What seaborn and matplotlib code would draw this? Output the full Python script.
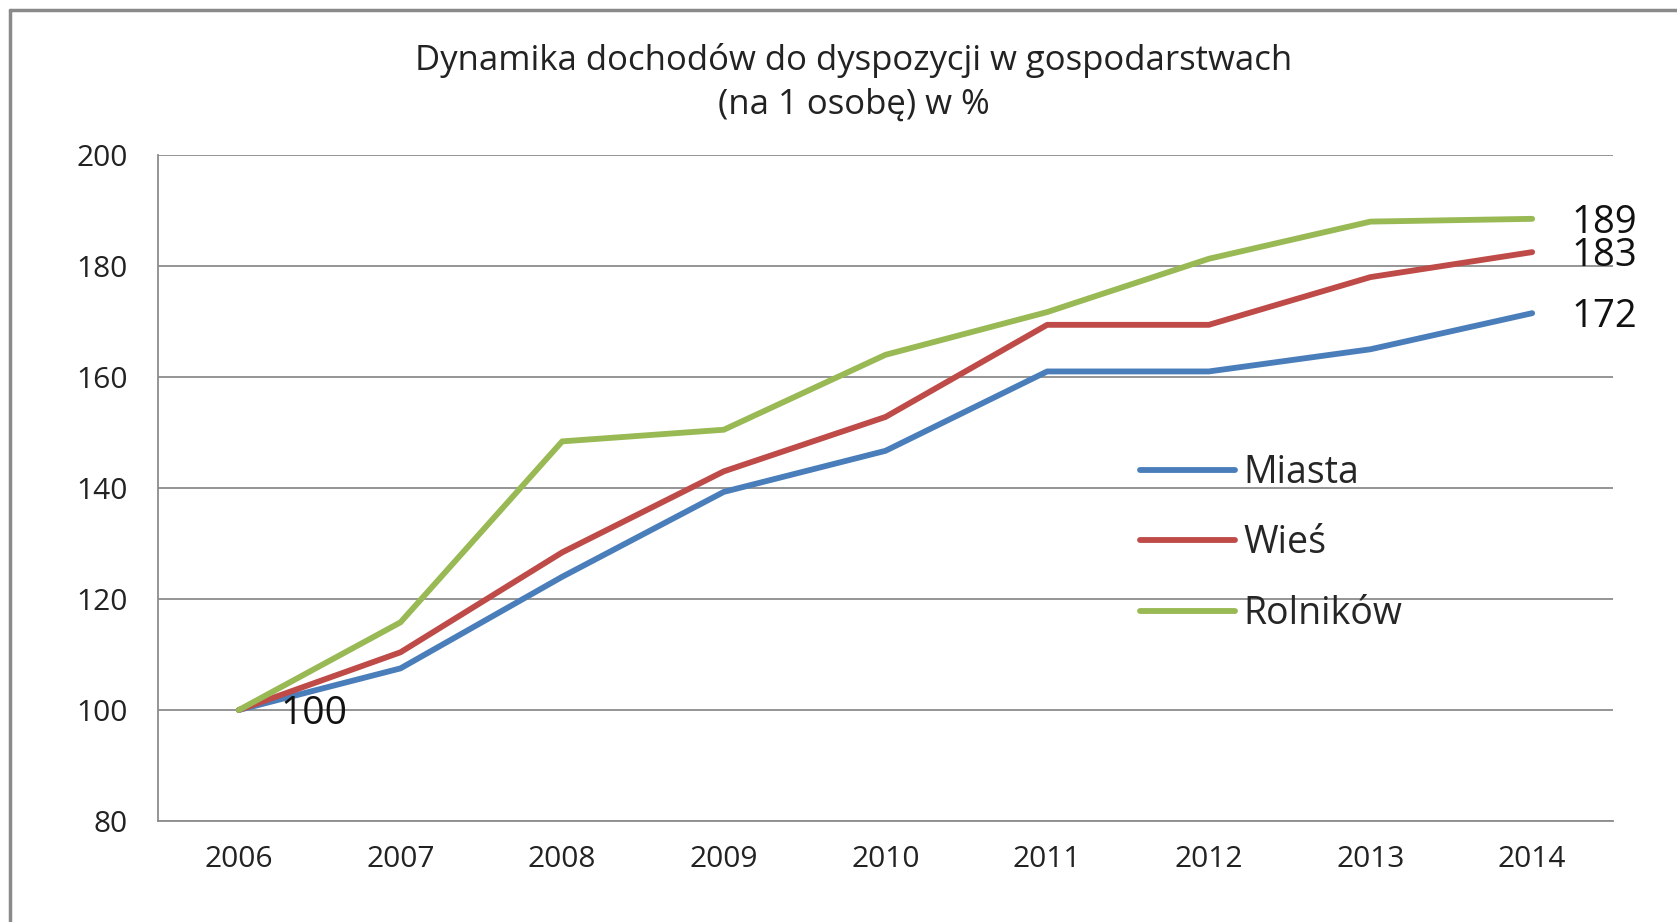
import pandas as pd
import seaborn as sns
from matplotlib import pyplot as plt
from matplotlib.lines import Line2D

# dane
lata = ["2006", "2007", "2008", "2009", "2010", "2011", "2012", "2013", "2014"]
miasta = [100, 107.5, 124, 139.3, 146.7, 161, 161, 165, 171.5]
wies = [100, 110.4, 128.4, 143, 152.8, 169.4, 169.4, 178, 182.5]
rolnikow = [100, 115.8, 148.4, 150.5, 164, 171.7, 181.3, 188, 188.5]
serie = ["Miasta", "Wieś", "Rolników"]
kolory = ["#4A7EBB", "#BE4B48", "#98B954"]
etykiety_koniec = ["172", "183", "189"]

df = pd.DataFrame({
    "rok": list(range(len(lata))) * 3,
    "wartosc": miasta + wies + rolnikow,
    "seria": [s for s in serie for _ in lata],
})

sns.set_style("white")
plt.rcParams["font.family"] = ["Open Sans", "DejaVu Sans"]

fig = plt.figure(figsize=(16.77, 9.22), dpi=100)
ax = fig.add_axes([158 / 1677, 1 - 821 / 922, (1613 - 158) / 1677, (821 - 155) / 922])

sns.lineplot(data=df, x="rok", y="wartosc", hue="seria", hue_order=serie,
             palette=kolory, linewidth=4.2, ax=ax, legend=False)

szary = "#8C8C8C"
ax.set_xlim(-0.5, len(lata) - 0.5)
ax.set_ylim(80, 200)
ax.set_yticks(range(80, 201, 20))
ax.set_xticks(range(len(lata)))
ax.set_xticklabels(lata)
ax.set_xticks([i - 0.5 for i in range(len(lata) + 1)], minor=True)
ax.tick_params(axis="x", which="major", length=0, pad=17, labelsize=21.5, labelcolor="#222222")
ax.tick_params(axis="x", which="minor", length=8, width=1.3, color=szary, direction="out")
ax.tick_params(axis="y", length=8, width=1.3, color=szary, pad=14, labelsize=21.5,
               labelcolor="#222222", direction="out")
ax.yaxis.grid(True, color=szary, linewidth=1.3)
ax.set_axisbelow(True)
ax.set_xlabel("")
ax.set_ylabel("")
for s in ["top", "right"]:
    ax.spines[s].set_visible(False)
for s in ["left", "bottom"]:
    ax.spines[s].set_color(szary)
    ax.spines[s].set_linewidth(1.3)

# etykiety wartości
ax.annotate("100", xy=(0, 100), xytext=(30, -3), textcoords="offset points",
            ha="left", va="center", fontsize=28, color="#111111")
for wart, tekst in zip([miasta[-1], wies[-1], rolnikow[-1]], etykiety_koniec):
    ax.annotate(tekst, xy=(len(lata) - 1, wart), xytext=(28, -3), textcoords="offset points",
                ha="left", va="center", fontsize=27.5, color="#111111")

# legenda
uchwyty = [Line2D([0], [0], color=k, linewidth=4.2) for k in kolory]
ax.legend(uchwyty, serie, loc="upper left", bbox_to_anchor=(1121 / 1677, 1 - 435 / 922),
          bbox_transform=fig.transFigure, frameon=False, fontsize=27,
          handlelength=2.55, handletextpad=0.22, labelspacing=0.87, borderpad=0)

# tytuł
fig.text(854 / 1677, 1 - 61 / 922, "Dynamika dochodów do dyspozycji w gospodarstwach",
         ha="center", va="center", fontsize=25, color="#222222")
fig.text(854 / 1677, 1 - 105 / 922, "(na 1 osobę) w %",
         ha="center", va="center", fontsize=25, color="#222222")

# ramka
fig.add_artist(Line2D([10 / 1677, 10 / 1677], [0, 1 - 10 / 922], color="#8A8A8A", linewidth=2.5,
                      transform=fig.transFigure))
fig.add_artist(Line2D([10 / 1677, 1], [1 - 10 / 922, 1 - 10 / 922], color="#8A8A8A", linewidth=2.5,
                      transform=fig.transFigure))

fig.savefig("out.png", dpi=100)
